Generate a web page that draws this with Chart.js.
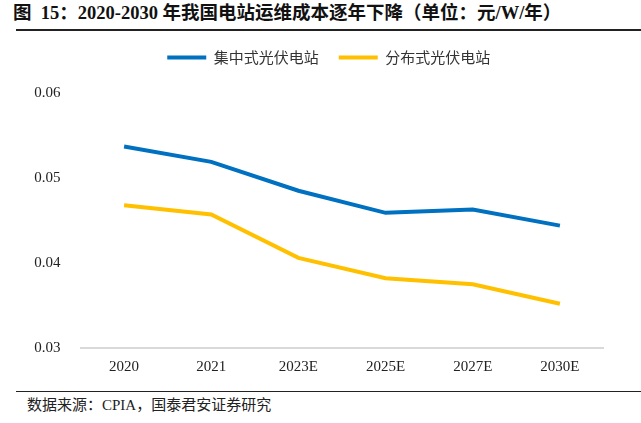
<!DOCTYPE html>
<html>
<head>
<meta charset="utf-8">
<script src="https://cdn.jsdelivr.net/npm/chart.js@4"></script>
<style>
  body { margin: 0; background: #fff; }
  #wrap { position: relative; width: 641px; height: 423px; overflow: hidden; }
  #title { position: absolute; left: 13px; top: 1px; font: bold 18.5px/24px "Liberation Serif", "Noto Sans CJK SC", serif; color: #111; white-space: nowrap; }
  .rule { position: absolute; left: 16px; right: 0; height: 1.5px; background: #222; }
  #src { position: absolute; left: 27px; top: 395px; font: 15px/20px "Liberation Serif", "Noto Sans CJK SC", serif; color: #222; white-space: nowrap; }
  #box { position: absolute; left: 0; top: 26px; width: 641px; height: 358px; }
</style>
</head>
<body>
<div id="wrap">
  <div id="title">图&nbsp;&nbsp;15：2020-2030 年我国电站运维成本逐年下降（单位：元/W/年）</div>
  <div class="rule" style="top:29px"></div>
  <div id="box"><canvas id="c"></canvas></div>
  <div class="rule" style="top:390.5px; height:1.2px"></div>
  <div id="src">数据来源：CPIA，国泰君安证券研究</div>
</div>
<script>
const categories = ['2020', '2021', '2023E', '2025E', '2027E', '2030E'];
const centralized = [0.0537, 0.0519, 0.0485, 0.0459, 0.0463, 0.0444];
const distributed = [0.0468, 0.0457, 0.0406, 0.0382, 0.0375, 0.0352];
const yTicks = [0.03, 0.04, 0.05, 0.06];

// extra room under the legend, and nudge it right like the original
const legendTweak = {
  id: 'legendTweak',
  beforeInit(chart) {
    const fit = chart.legend.fit;
    chart.legend.fit = function () {
      fit.bind(chart.legend)();
      this.height += 18;
    };
  },
  afterLayout(chart) {
    chart.legend.left += 27;
    chart.legend.right += 27;
  }
};

new Chart(document.getElementById('c').getContext('2d'), {
  type: 'line',
  data: {
    labels: categories,
    datasets: [{
      label: '集中式光伏电站',
      data: centralized,
      borderColor: '#0070C0',
      backgroundColor: '#0070C0',
      borderWidth: 4,
      pointRadius: 0,
      tension: 0
    }, {
      label: '分布式光伏电站',
      data: distributed,
      borderColor: '#FFC000',
      backgroundColor: '#FFC000',
      borderWidth: 4,
      pointRadius: 0,
      tension: 0
    }]
  },
  options: {
    responsive: true,
    maintainAspectRatio: false,
    animation: false,
    layout: { padding: { left: 0, right: 37.5, top: 4, bottom: 6 } },
    plugins: {
      tooltip: { enabled: false },
      legend: {
        position: 'top',
        labels: {
          usePointStyle: true,
          pointStyle: 'line',
          pointStyleWidth: 39,
          boxHeight: 4,
          padding: 20,
          color: '#333',
          font: { family: '"Noto Sans CJK SC", sans-serif', size: 15 }
        }
      }
    },
    scales: {
      x: {
        offset: true,
        grid: { display: false },
        border: { color: '#d9d9d9', width: 2 },
        ticks: { color: '#222', padding: 2, font: { family: '"Liberation Serif", serif', size: 15 } }
      },
      y: {
        min: 0.03,
        max: 0.06,
        afterBuildTicks: (axis) => { axis.ticks = yTicks.map(v => ({ value: v })); },
        afterFit: (axis) => { axis.width = 80.5; },
        grid: { display: false },
        border: { display: false },
        ticks: {
          color: '#222',
          padding: 12,
          font: { family: '"Liberation Serif", serif', size: 15 },
          callback: (v) => v.toFixed(2)
        }
      }
    }
  },
  plugins: [legendTweak]
});
</script>
</body>
</html>
